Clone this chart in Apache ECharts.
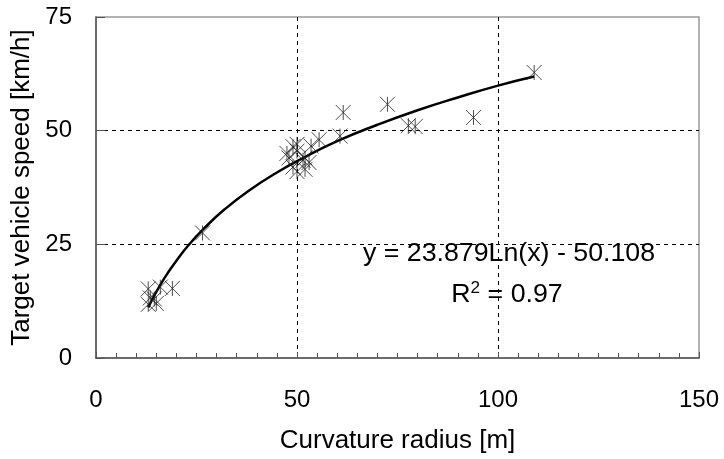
<!DOCTYPE html>
<html>
<head>
<meta charset="utf-8">
<script src="https://cdn.jsdelivr.net/npm/echarts@6/dist/echarts.min.js"></script>
<style>
  html, body { margin: 0; padding: 0; background: #fff; }
  #chart { width: 724px; height: 459px; }
</style>
</head>
<body>
<div id="chart"></div>
<script>
// measured points (curvature radius [m], target speed [km/h])
const radius = [13, 16, 19, 13.5, 13, 15, 14.5, 26.5,
  47.5, 48, 49, 50, 50, 49, 50, 51.5, 52, 53, 52, 53.5, 55.5,
  60.7, 61.5, 72.5, 77.7, 79.4, 93.9, 109];
const speed = [15.2, 15.6, 15.3, 13.2, 11.8, 12, 13, 27.5,
  45, 44, 46.5, 47, 45.5, 42, 41, 43.5, 44, 43, 41.5, 46.6, 48,
  48.8, 54, 55.8, 51.1, 50.9, 52.9, 62.8];

// trend line
const trendX = [13, 14, 16, 18, 20, 23, 27, 32, 38, 45, 52, 60, 70, 80, 90, 100, 109];
const trendY = [11.1, 12.9, 16.1, 18.9, 21.4, 24.8, 28.6, 32.7, 36.8, 40.8, 44.2, 47.7, 51.3, 54.5, 57.3, 59.9, 61.9];

const xTicks = [0, 50, 100, 150];
const yTicks = [0, 25, 50, 75];

const chart = echarts.init(document.getElementById('chart'), null, { renderer: 'canvas' });

const font = 'Liberation Sans, Arial, sans-serif';
const star = 'path://M0,0L10,10M10,0L0,10M5,0L5,10';

let option = {
  animation: false,
  backgroundColor: '#fff',
  textStyle: { fontFamily: font },
  grid: { left: 96, right: 25, top: 17, bottom: 101, show: true, borderColor: '#999', borderWidth: 1.5 },
  xAxis: {
    type: 'value',
    min: xTicks[0],
    max: xTicks[xTicks.length - 1],
    interval: 50,
    name: 'Curvature radius [m]',
    nameLocation: 'middle',
    nameGap: 70,
    nameTextStyle: { color: '#000', fontSize: 26, fontFamily: font },
    axisLine: { lineStyle: { color: '#555', width: 1.5 } },
    axisTick: { inside: true, length: 6, lineStyle: { color: '#555' } },
    minorTick: { show: true, splitNumber: 10, length: 5, lineStyle: { color: '#555' } },
    axisLabel: { color: '#000', fontSize: 24, margin: 30, fontFamily: font },
    splitLine: {
      show: true,
      showMinLine: false,
      showMaxLine: false,
      lineStyle: { color: '#000', type: [4, 4], width: 1 }
    }
  },
  yAxis: {
    type: 'value',
    min: yTicks[0],
    max: yTicks[yTicks.length - 1],
    interval: 25,
    name: 'Target vehicle speed [km/h]',
    nameLocation: 'middle',
    nameGap: 56,
    nameTextStyle: { color: '#000', fontSize: 26, fontFamily: font },
    axisLine: { show: true, lineStyle: { color: '#555', width: 1.5 } },
    axisTick: { show: true, inside: true, length: 9, lineStyle: { color: '#555' } },
    axisLabel: { color: '#000', fontSize: 24, margin: 24, fontFamily: font },
    splitLine: {
      show: true,
      showMinLine: false,
      showMaxLine: false,
      lineStyle: { color: '#000', type: [4, 4], width: 1 }
    }
  },
  series: [
    {
      type: 'line',
      data: trendX.map((x, i) => [x, trendY[i]]),
      smooth: true,
      showSymbol: false,
      lineStyle: { color: '#000', width: 2.5 },
      z: 3
    },
    {
      type: 'scatter',
      data: radius.map((x, i) => [x, speed[i]]),
      symbol: star,
      symbolSize: 15,
      itemStyle: { color: 'transparent', borderColor: '#222', borderWidth: 1 },
      z: 4
    }
  ],
  graphic: [
    {
      type: 'text',
      x: 509,
      y: 254,
      scaleX: 1.07,
      style: {
        text: 'y = 23.879Ln(x) - 50.108', fill: '#000', fontSize: 25, fontFamily: font,
        align: 'center', verticalAlign: 'middle'
      }
    },
    {
      type: 'text',
      x: 507,
      y: 295,
      scaleX: 1.07,
      style: {
        text: 'R{sup|2} = 0.97',
        fill: '#000',
        fontSize: 25,
        fontFamily: font,
        align: 'center',
        verticalAlign: 'middle',
        rich: { sup: { fontSize: 16, verticalAlign: 'top', padding: [0, 0, 12, 0], fontFamily: font, fill: '#000' } }
      }
    }
  ]
};

chart.setOption(option);
</script>
</body>
</html>
